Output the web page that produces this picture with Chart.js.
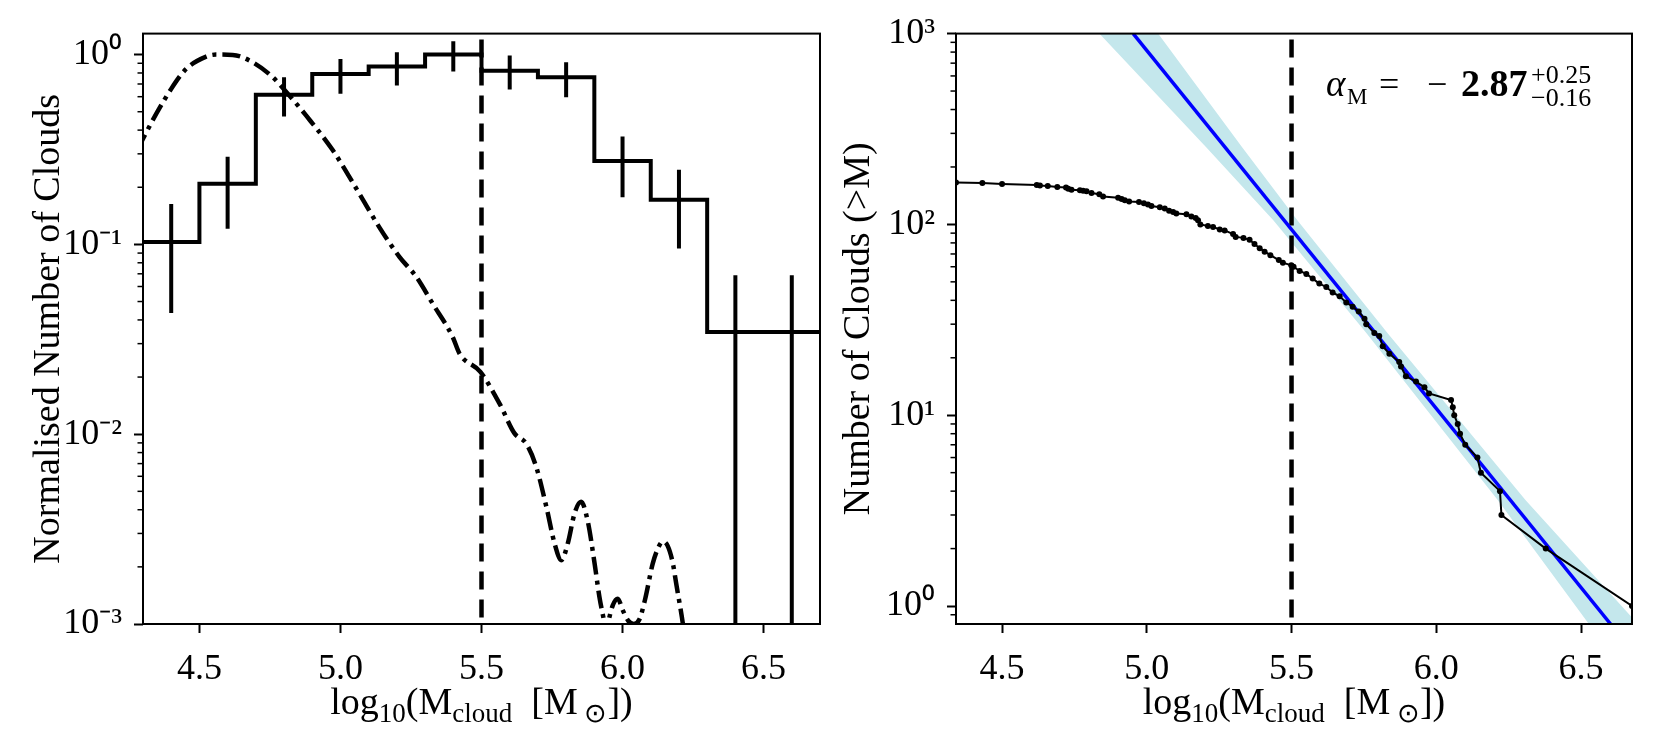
<!DOCTYPE html>
<html>
<head>
<meta charset="utf-8">
<script src="https://cdn.jsdelivr.net/npm/chart.js@4.4.1/dist/chart.umd.min.js"></script>
<style>
  html, body { margin: 0; padding: 0; background: #fff; }
  #wrap { position: relative; width: 1660px; height: 747px; background: #fff; }
  .panel { position: absolute; top: 0; width: 830px; height: 747px; }
</style>
</head>
<body>
<div id="wrap">
  <div class="panel" style="left:0"><canvas id="left"></canvas></div>
  <div class="panel" style="left:830px"><canvas id="right"></canvas></div>
</div>
<script>
// ---- left panel: normalised mass histogram ----
const binCenters = [4.4, 4.6, 4.8, 5.0, 5.2, 5.4, 5.6, 5.8, 6.0, 6.2, 6.4, 6.6];
const binWidth = 0.2;
const histValues = [0.103, 0.209, 0.614, 0.791, 0.865, 1.0, 0.823, 0.76, 0.275, 0.172, 0.0346, 0.0346];
const histErrLo = [0.0435, 0.121, 0.472, 0.621, 0.687, 0.814, 0.654, 0.596, 0.177, 0.095, 0, 0];
const histErrHi = [0.163, 0.29, 0.76, 0.949, 1.03, 1.175, 0.99, 0.911, 0.37, 0.247, 0.0687, 0.0687];

// dash-dot comparison distribution
const curveX = [4.28, 4.30, 4.40, 4.453, 4.524, 4.559, 4.618, 4.689, 4.760, 4.819,
  4.878, 4.973, 5.067, 5.138, 5.209, 5.268, 5.327, 5.398, 5.422, 5.496,
  5.564, 5.617, 5.659, 5.694, 5.730, 5.759, 5.783, 5.806, 5.830, 5.853,
  5.877, 5.901, 5.918, 5.936, 5.942, 5.948, 5.965, 5.983, 6.001, 6.020,
  6.040, 6.060, 6.080, 6.107, 6.128, 6.143, 6.160, 6.178, 6.190, 6.214,
  6.240, 6.270];
const curveY = [0.31, 0.36, 0.66, 0.84, 0.976, 1.0, 0.996, 0.911, 0.76, 0.608,
  0.478, 0.313, 0.185, 0.123, 0.086, 0.0677, 0.0487, 0.0325, 0.0266, 0.0213,
  0.0145, 0.0101, 0.0089, 0.00673, 0.00414, 0.00266, 0.00217, 0.00266, 0.00383, 0.0044,
  0.00346, 0.00208, 0.00139, 0.00101, 0.0009, 0.00100, 0.00125, 0.00136, 0.00118, 0.00104,
  0.00100, 0.00106, 0.00135, 0.00208, 0.00255, 0.00272, 0.00258, 0.0021, 0.00164, 0.00100,
  0.0005, 0.0002];

// ---- right panel: cumulative mass function N(>M) ----
const cdfMass = [4.341, 4.432, 4.500, 4.620, 4.631, 4.658, 4.691, 4.721, 4.729, 4.740,
  4.769, 4.780, 4.792, 4.809, 4.836, 4.849, 4.901, 4.913, 4.924, 4.939,
  4.973, 4.990, 5.004, 5.016, 5.045, 5.062, 5.077, 5.091, 5.102, 5.137,
  5.154, 5.169, 5.177, 5.185, 5.211, 5.229, 5.252, 5.269, 5.298, 5.307,
  5.334, 5.355, 5.372, 5.390, 5.407, 5.427, 5.456, 5.470, 5.499, 5.507,
  5.528, 5.551, 5.573, 5.596, 5.620, 5.642, 5.666, 5.689, 5.711, 5.732,
  5.752, 5.758, 5.786, 5.803, 5.815, 5.838, 5.872, 5.878, 5.895, 5.930,
  5.959, 5.975, 6.051, 6.057, 6.062, 6.074, 6.082, 6.100, 6.142, 6.154,
  6.220, 6.225, 6.378, 6.676];
const cdfCount = [166, 165, 163, 161, 160, 159, 157, 156, 154, 152,
  151, 150, 149, 146, 144, 140, 138, 136, 134, 132,
  131, 129, 127, 125, 123, 121, 118, 116, 114, 113,
  110, 108, 105, 100, 98, 97, 94, 93, 89, 86,
  85, 83, 79, 75, 72, 69, 65, 63, 61, 60,
  57, 55, 52, 49, 47, 44, 42, 39, 37, 35,
  32, 30, 27, 26, 23, 21, 19, 18, 16, 15,
  14, 13, 12, 11, 10, 9, 8, 7, 6, 5,
  4, 3, 2, 1];

// power-law fit and its uncertainty band (edges run past the frame)
const fitMass = [4.953, 6.602];
const fitCount = [1000, 0.805];
const bandLoMass = [4.73, 4.836, 5.206, 5.437, 5.759, 6.212, 6.527, 6.620, 6.75];
const bandLoCount = [1489, 1000, 253, 105, 26.9, 3.59, 0.805, 0.521, 0.284];
const bandHiMass = [4.80, 4.950, 5.039, 5.330, 5.520, 5.832, 6.308, 6.696, 6.803];
const bandHiCount = [2900, 1489, 1000, 253, 105, 26.9, 3.59, 0.805, 0.521];

const massCut = 5.5;
const xTickValues = [4.5, 5.0, 5.5, 6.0, 6.5];
const leftYMajors = [0.001, 0.01, 0.1, 1];
const rightYMajors = [1, 10, 100, 1000];
const leftRange = { xmin: 4.3, xmax: 6.7, ymin: 0.001, ymax: 1.29 };
const rightRange = { xmin: 4.341, xmax: 6.676, ymin: 0.805, ymax: 1000 };

const serif = '"Liberation Serif"';
Chart.defaults.font.family = serif;
Chart.defaults.color = '#000';

const pts = (xs, ys) => xs.map((x, i) => ({ x: x, y: ys[i] }));

const supMap = { '-': '\u207B', '0': '\u2070', '1': '\u00B9', '2': '\u00B2', '3': '\u00B3' };
function powLabel(v) {
  const e = String(Math.round(Math.log10(v)));
  return '10' + e.split('').map(c => supMap[c]).join('');
}

function minorValues(majors, lo, hi) {
  const out = [];
  [majors[0] / 10].concat(majors).forEach(m => {
    for (let k = 2; k <= 9; k++) {
      const v = k * m;
      if (v >= lo && v <= hi) out.push(v);
    }
  });
  return out;
}

// frame + minor log ticks
function framePlugin(minors) {
  return {
    id: 'frame',
    afterDraw(chart) {
      const { ctx, chartArea: a } = chart;
      const ys = chart.scales.y;
      ctx.save();
      ctx.strokeStyle = '#000';
      ctx.lineWidth = 1.5;
      minors.forEach(v => {
        const y = ys.getPixelForValue(v);
        ctx.beginPath();
        ctx.moveTo(a.left, y);
        ctx.lineTo(a.left - 5.5, y);
        ctx.stroke();
      });
      ctx.lineWidth = 2;
      ctx.strokeRect(a.left, a.top, a.right - a.left, a.bottom - a.top);
      ctx.restore();
    }
  };
}

// x axis label with subscripts
const massLabelPlugin = {
  id: 'massLabel',
  afterDraw(chart) {
    const { ctx, chartArea: a } = chart;
    const parts = [['log', 0], ['10', 1], ['(M', 0], ['cloud', 1], ['  [M', 0], [' \u2299', 1], ['])', 0]];
    const fonts = ['38px ' + serif, '27px ' + serif];
    let w = 0;
    parts.forEach(p => { ctx.font = fonts[p[1]]; w += ctx.measureText(p[0]).width; });
    let x = (a.left + a.right) / 2 - w / 2;
    const base = a.bottom + 90;
    ctx.save();
    ctx.fillStyle = '#000';
    ctx.textBaseline = 'alphabetic';
    ctx.textAlign = 'left';
    parts.forEach(p => {
      ctx.font = fonts[p[1]];
      ctx.fillText(p[0], x, base + (p[1] ? 8 : 0));
      x += ctx.measureText(p[0]).width;
    });
    ctx.restore();
  }
};

// slope annotation
const slopePlugin = {
  id: 'slope',
  afterDraw(chart) {
    const { ctx, chartArea: a } = chart;
    const x0 = a.left + 370;
    const base = a.top + 62;
    ctx.save();
    ctx.fillStyle = '#000';
    ctx.textBaseline = 'alphabetic';
    ctx.textAlign = 'left';
    ctx.font = 'italic 37px ' + serif;
    ctx.fillText('\u03B1', x0, base);
    ctx.font = '23px ' + serif;
    ctx.fillText('M', x0 + 21, base + 8);
    ctx.font = '36px ' + serif;
    ctx.fillText('=', x0 + 53, base);
    ctx.fillText('\u2212', x0 + 101, base);
    ctx.font = 'bold 38px ' + serif;
    ctx.fillText('2.87', x0 + 135, base);
    ctx.font = '26px ' + serif;
    ctx.fillText('+0.25', x0 + 205, base - 13);
    ctx.fillText('\u22120.16', x0 + 205, base + 10);
    ctx.restore();
  }
};

function axes(range, yMajors, yTitle, yWidth, titlePad) {
  const tickGrid = { drawOnChartArea: false, drawTicks: true, tickLength: 9, tickWidth: 2, tickColor: '#000' };
  return {
    x: {
      type: 'linear', min: range.xmin, max: range.xmax,
      afterBuildTicks: s => { s.ticks = xTickValues.map(v => ({ value: v })); },
      afterFit: s => { s.height = 123; },
      ticks: { callback: v => Number(v).toFixed(1), font: { family: serif, size: 36 }, color: '#000', padding: 15, autoSkip: false, maxRotation: 0 },
      grid: tickGrid,
      border: { display: false }
    },
    y: {
      type: 'logarithmic', min: range.ymin, max: range.ymax,
      afterBuildTicks: s => { s.ticks = yMajors.map(v => ({ value: v, major: true })); },
      afterFit: s => { s.width = yWidth; },
      ticks: { callback: v => powLabel(v), font: { family: serif, size: 36 }, color: '#000', padding: 12, autoSkip: false },
      grid: tickGrid,
      border: { display: false },
      title: { display: true, text: yTitle, font: { family: serif, size: 38 }, color: '#000', padding: { top: titlePad, bottom: 0 } }
    }
  };
}

const common = {
  responsive: true,
  maintainAspectRatio: false,
  animation: false,
  events: [],
  elements: { point: { radius: 0 }, line: { fill: false } },
  plugins: { legend: { display: false }, tooltip: { enabled: false } }
};

// left chart
const histEdges = binCenters.map(c => c - binWidth / 2).concat([binCenters[binCenters.length - 1] + binWidth / 2]);
const histSteps = histValues.concat([histValues[histValues.length - 1]]);
const errorSets = binCenters.map((c, i) => ({
  data: [{ x: c, y: Math.max(histErrLo[i], leftRange.ymin) }, { x: c, y: histErrHi[i] }],
  borderColor: '#000', borderWidth: 4, clip: 0, order: 0
}));

new Chart(document.getElementById('left'), {
  type: 'line',
  data: {
    datasets: [
      { label: 'clouds', data: pts(histEdges, histSteps), stepped: true, borderColor: '#000', borderWidth: 4,
        borderJoinStyle: 'miter', clip: 0, order: 1 },
      { label: 'comparison', data: pts(curveX, curveY), borderColor: '#000', borderWidth: 4.5,
        borderDash: [18, 6, 4, 6], cubicInterpolationMode: 'monotone', clip: 0, order: 2 },
      { label: 'cut', data: [{ x: massCut, y: leftRange.ymax }, { x: massCut, y: leftRange.ymin }],
        borderColor: '#000', borderWidth: 4.5, borderDash: [18, 10], borderDashOffset: 22, clip: 0, order: 3 }
    ].concat(errorSets)
  },
  options: Object.assign({}, common, {
    layout: { padding: { left: 0, top: 33, right: 10, bottom: 0 } },
    scales: axes(leftRange, leftYMajors, 'Normalised Number of Clouds', 143, 26)
  }),
  plugins: [framePlugin(minorValues(leftYMajors, leftRange.ymin, leftRange.ymax)), massLabelPlugin]
});

// right chart
new Chart(document.getElementById('right'), {
  type: 'line',
  data: {
    datasets: [
      { label: 'N(>M)', data: pts(cdfMass, cdfCount), borderColor: '#000', borderWidth: 2,
        pointRadius: 3, pointBackgroundColor: '#000', pointBorderWidth: 0, clip: 0, order: 0 },
      { label: 'fit', data: pts(fitMass, fitCount), borderColor: '#0000ff', borderWidth: 3.5, clip: 0, order: 1 },
      { label: 'cut', data: [{ x: massCut, y: rightRange.ymax }, { x: massCut, y: rightRange.ymin }],
        borderColor: '#000', borderWidth: 4.5, borderDash: [18, 10], borderDashOffset: 22, clip: 0, order: 2 },
      { label: 'band low', data: pts(bandLoMass, bandLoCount), borderWidth: 0, borderColor: 'rgba(0,0,0,0)', clip: 0, order: 4 },
      { label: 'band high', data: pts(bandHiMass, bandHiCount), borderWidth: 0, borderColor: 'rgba(0,0,0,0)',
        backgroundColor: 'rgb(196,231,236)', fill: '-1', clip: 0, order: 3 }
    ]
  },
  options: Object.assign({}, common, {
    layout: { padding: { left: 0, top: 33, right: 28, bottom: 0 } },
    scales: axes(rightRange, rightYMajors, 'Number of Clouds (>M)', 126, 6)
  }),
  plugins: [framePlugin(minorValues(rightYMajors, rightRange.ymin, rightRange.ymax)), massLabelPlugin, slopePlugin]
});
</script>
</body>
</html>
